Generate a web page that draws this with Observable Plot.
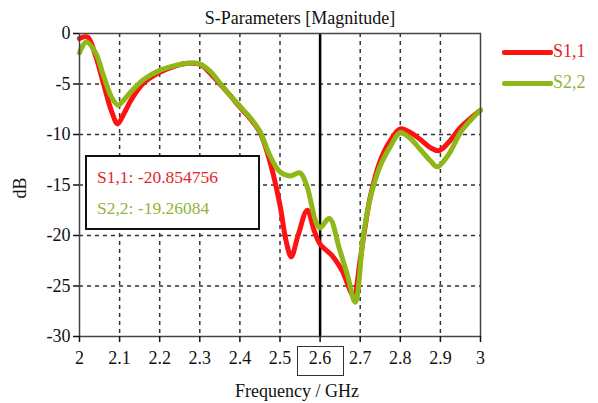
<!DOCTYPE html>
<html>
<head>
<meta charset="utf-8">
<script src="https://cdn.jsdelivr.net/npm/d3@7"></script>
<script src="https://cdn.jsdelivr.net/npm/@observablehq/plot@0.6"></script>
<style>
  html, body { margin: 0; padding: 0; background: #fff; }
  #wrap { position: relative; width: 598px; height: 403px; font-family: "Liberation Serif", "Times New Roman", serif; color: #111; }
  .ov { position: absolute; white-space: nowrap; line-height: 1; }
  .swatch { position: absolute; height: 5px; border-radius: 2px; }
  #wrap svg text { font-family: "Liberation Serif", "Times New Roman", serif; font-size: 18px; fill: #111; }
</style>
</head>
<body>
<div id="wrap"></div>
<script>
// S-parameter magnitude curves (frequency in GHz, magnitude in dB)
const s11Freq = [2.00, 2.02, 2.04, 2.06, 2.08, 2.095, 2.11, 2.13, 2.16, 2.20, 2.24, 2.27, 2.30, 2.325, 2.35, 2.375, 2.40, 2.425, 2.45, 2.475, 2.50, 2.515, 2.528, 2.545, 2.568, 2.585, 2.60, 2.63, 2.655, 2.683, 2.70, 2.71, 2.725, 2.75, 2.775, 2.80, 2.825, 2.85, 2.875, 2.896, 2.92, 2.95, 2.975, 3.00];
const s11Db   = [-0.5, -0.35, -2.2, -5.0, -7.7, -8.95, -8.0, -6.5, -4.9, -3.85, -3.2, -2.95, -3.05, -3.9, -5.0, -6.1, -7.3, -8.4, -9.8, -12.7, -17.0, -20.5, -22.1, -20.0, -17.5, -19.5, -20.854756, -22.0, -23.5, -25.9, -22.4, -19.7, -16.2, -12.6, -10.6, -9.45, -9.8, -10.5, -11.3, -11.6, -10.8, -9.3, -8.4, -7.6];

const s22Freq = [2.00, 2.017, 2.04, 2.06, 2.08, 2.096, 2.11, 2.13, 2.16, 2.20, 2.24, 2.27, 2.30, 2.325, 2.35, 2.375, 2.40, 2.425, 2.45, 2.475, 2.50, 2.525, 2.55, 2.567, 2.59, 2.60, 2.623, 2.648, 2.668, 2.6875, 2.708, 2.725, 2.75, 2.775, 2.80, 2.825, 2.85, 2.875, 2.892, 2.92, 2.95, 2.975, 3.00];
const s22Db   = [-1.9, -0.85, -1.9, -4.2, -6.3, -7.1, -6.6, -5.7, -4.55, -3.65, -3.15, -2.95, -3.0, -3.7, -4.9, -6.1, -7.2, -8.3, -9.7, -12.1, -13.7, -14.1, -13.8, -15.1, -18.7, -19.26084, -18.3, -21.3, -23.9, -26.6, -20.0, -16.3, -13.1, -11.2, -9.8, -10.4, -11.5, -12.6, -13.2, -12.0, -9.8, -8.6, -7.6];

const seriesNames = ["S1,1", "S2,2"];
const seriesColors = ["#ff1212", "#8db817"];
const textColors = ["#e41f28", "#93b43a"];

const xTicks = [2, 2.1, 2.2, 2.3, 2.4, 2.5, 2.6, 2.7, 2.8, 2.9, 3];
const yTicks = [0, -5, -10, -15, -20, -25, -30];
const markerFreq = 2.6;

const toRows = (fs, vs, name) => fs.map((f, i) => ({freq: f, db: vs[i], series: name}));
const s11 = toRows(s11Freq, s11Db, seriesNames[0]);
const s22 = toRows(s22Freq, s22Db, seriesNames[1]);

const serif = "'Liberation Serif', 'Times New Roman', serif";
const gridStyle = {stroke: "#333", strokeOpacity: 1, strokeWidth: 1.5, strokeDasharray: "4,4"};

const chart = Plot.plot({
  width: 598,
  height: 403,
  marginLeft: 79,
  marginRight: 118,
  marginTop: 33,
  marginBottom: 67,
  style: {fontFamily: serif, fontSize: "18px", color: "#111", background: "transparent"},
  x: {domain: [2, 3]},
  y: {domain: [-30, 0]},
  marks: [
    Plot.gridX(xTicks.filter(t => t > 2 && t < 3 && t !== markerFreq), gridStyle),
    Plot.gridY(yTicks.filter(t => t < 0 && t > -30), gridStyle),
    Plot.ruleX([markerFreq], {stroke: "#000", strokeWidth: 2.5}),
    Plot.line(s11, {x: "freq", y: "db", stroke: seriesColors[0], strokeWidth: 5, curve: "catmull-rom"}),
    Plot.line(s22, {x: "freq", y: "db", stroke: seriesColors[1], strokeWidth: 5, curve: "catmull-rom"}),
    Plot.frame({stroke: "#444", strokeWidth: 1.5}),
    Plot.axisX({ticks: xTicks, tickSize: 6, tickPadding: 9, tickFormat: d => String(+d.toFixed(1)), label: null, strokeWidth: 1.5, fontFamily: serif, fontSize: 18}),
    Plot.axisY({ticks: yTicks, tickSize: 6, tickPadding: 3, tickFormat: d => String(d), label: null, strokeWidth: 1.5, fontFamily: serif, fontSize: 18})
  ]
});

const wrap = document.getElementById("wrap");
wrap.appendChild(chart);

const sx = chart.scale("x");

function addText(text, left, top, css = {}) {
  const el = document.createElement("div");
  el.className = "ov";
  el.textContent = text;
  el.style.left = left + "px";
  el.style.top = top + "px";
  Object.assign(el.style, css);
  wrap.appendChild(el);
  return el;
}

// Title and axis titles
addText("S-Parameters [Magnitude]", 300, 9, {transform: "translateX(-50%)", fontSize: "18px"});
addText("Frequency / GHz", 297, 382, {transform: "translateX(-50%)", fontSize: "18px"});
addText("dB", 20, 188, {transform: "translate(-50%, -50%) rotate(-90deg)", fontSize: "18px"});

// Box around the marker frequency tick label
const mk = sx.apply(markerFreq);
const box = document.createElement("div");
box.className = "ov";
Object.assign(box.style, {left: (mk - 23) + "px", top: "346px", width: "47px", height: "30px", border: "1.5px solid #333", boxSizing: "border-box"});
wrap.appendChild(box);

// Legend
seriesNames.forEach((name, i) => {
  const top = 52 + i * 31;
  const sw = document.createElement("div");
  sw.className = "swatch";
  Object.assign(sw.style, {left: "502px", top: (top - 2.5) + "px", width: "51px", background: seriesColors[i]});
  wrap.appendChild(sw);
  addText(name, 553, top - 10, {color: textColors[i], fontSize: "18px"});
});

// Marker readout box
const readout = document.createElement("div");
readout.className = "ov";
Object.assign(readout.style, {left: "85px", top: "155px", width: "175px", height: "75px", border: "2.5px solid #111", boxSizing: "border-box", background: "#fff"});
wrap.appendChild(readout);
const atMarker = [s11, s22].map(rows => rows.find(r => r.freq === markerFreq).db);
atMarker.forEach((v, i) => {
  addText(`${seriesNames[i]}: ${v}`, 97, 169 + i * 31, {color: textColors[i], fontSize: "17.5px"});
});
</script>
</body>
</html>
